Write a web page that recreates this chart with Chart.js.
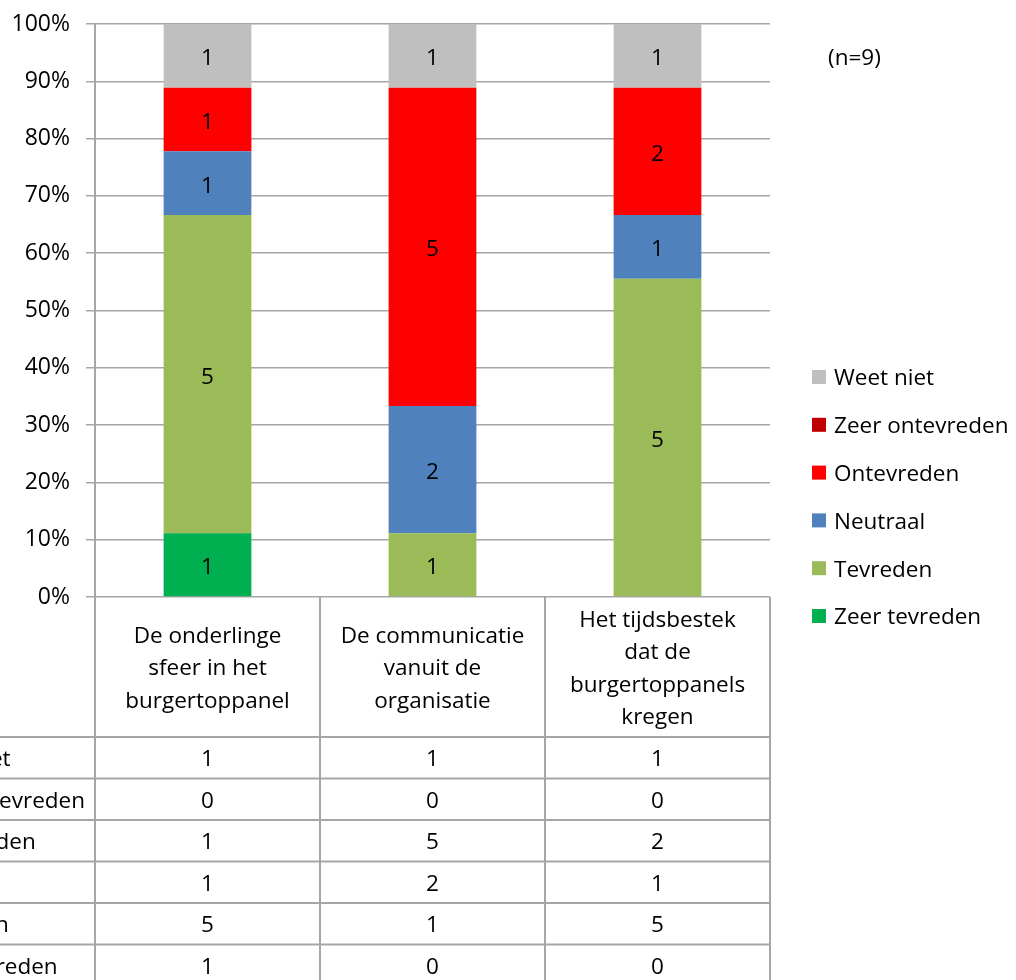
<!DOCTYPE html>
<html>
<head>
<meta charset="utf-8">
<script src="https://cdn.jsdelivr.net/npm/chart.js@4/dist/chart.umd.min.js"></script>
<style>
  body { margin: 0; background: #fff; }
  #wrap { width: 1016px; height: 980px; position: relative; }
</style>
</head>
<body>
<div id="wrap"><canvas id="chart"></canvas></div>
<script>
// categories, header text split on the lines shown in the table
const categories = [
  ["De onderlinge", "sfeer in het", "burgertoppanel"],
  ["De communicatie", "vanuit de", "organisatie"],
  ["Het tijdsbestek", "dat de", "burgertoppanels", "kregen"],
];

// counts per answer (n=9 per column)
const weetNiet       = [1, 1, 1];
const zeerOntevreden = [0, 0, 0];
const ontevreden     = [1, 5, 2];
const neutraal       = [1, 2, 1];
const tevreden       = [5, 1, 5];
const zeerTevreden   = [1, 0, 0];

const yTicks = [0, 10, 20, 30, 40, 50, 60, 70, 80, 90, 100];
const sampleNote = "(n=9)";

// stack order bottom -> top
const series = [
  { name: "Zeer tevreden",   counts: zeerTevreden,   color: "#00b050" },
  { name: "Tevreden",        counts: tevreden,       color: "#9bbb59" },
  { name: "Neutraal",        counts: neutraal,       color: "#4f81bd" },
  { name: "Ontevreden",      counts: ontevreden,     color: "#ff0000" },
  { name: "Zeer ontevreden", counts: zeerOntevreden, color: "#c00000" },
  { name: "Weet niet",       counts: weetNiet,       color: "#bfbfbf" },
];

const totals = categories.map((_, i) => series.reduce((s, d) => s + d.counts[i], 0));

const FONT = "'Open Sans', Lato, sans-serif";
const TXT = `22.5px ${FONT}`;
const LINE = "#a6a6a6";
const DY = 2; // Open Sans sits a little high on a middle baseline

// value labels centred in each segment
const valueLabels = {
  id: "valueLabels",
  afterDatasetsDraw(chart) {
    const ctx = chart.ctx;
    ctx.save();
    ctx.font = TXT;
    ctx.fillStyle = "#000";
    ctx.textAlign = "center";
    ctx.textBaseline = "middle";
    chart.data.datasets.forEach((ds, di) => {
      const meta = chart.getDatasetMeta(di);
      meta.data.forEach((bar, i) => {
        const c = ds.counts[i];
        if (!c) return;
        ctx.fillText(String(c), bar.x, (bar.y + bar.base) / 2 + DY + 1);
      });
    });
    ctx.restore();
  }
};

// data table under the plot + legend on the right
const tableAndLegend = {
  id: "tableAndLegend",
  afterDraw(chart) {
    const ctx = chart.ctx;
    const xs = chart.scales.x;
    const area = chart.chartArea;
    const colW = (area.right - area.left) / categories.length;
    const headTop = area.bottom, headBot = 737, rowH = 41.5;
    const rows = series.slice().reverse();

    ctx.save();
    ctx.strokeStyle = LINE;
    ctx.lineWidth = 2;
    // vertical lines
    for (let i = 0; i <= categories.length; i++) {
      const x = area.left + i * colW;
      ctx.beginPath();
      ctx.moveTo(x, headTop);
      ctx.lineTo(x, chart.height);
      ctx.stroke();
    }
    // horizontal lines
    for (let r = 0; r <= rows.length; r++) {
      const y = headBot + r * rowH;
      ctx.beginPath();
      ctx.moveTo(0, y);
      ctx.lineTo(area.right, y);
      ctx.stroke();
    }

    ctx.fillStyle = "#000";
    ctx.font = TXT;
    ctx.textAlign = "center";
    ctx.textBaseline = "middle";
    // header
    categories.forEach((lines, i) => {
      const cx = xs.getPixelForValue(i);
      const mid = (headTop + headBot) / 2 + DY;
      const lh = 32.5;
      lines.forEach((t, k) => {
        ctx.fillText(t, cx, mid + (k - (lines.length - 1) / 2) * lh);
      });
    });
    // row values
    rows.forEach((s, r) => {
      const cy = headBot + r * rowH + rowH / 2 + DY;
      s.counts.forEach((c, i) => ctx.fillText(String(c), xs.getPixelForValue(i), cy));
    });
    // row labels (column sits partly off the left edge)
    ctx.textAlign = "left";
    const x0 = 85 - ctx.measureText("Zeer ontevreden").width;
    rows.forEach((s, r) => {
      ctx.fillText(s.name, x0, headBot + r * rowH + rowH / 2 + DY);
    });

    // legend
    rows.forEach((s, r) => {
      const cy = 377 + r * 47.8;
      ctx.fillStyle = s.color;
      ctx.fillRect(812, cy - 7, 14, 14);
      ctx.fillStyle = "#000";
      ctx.fillText(s.name, 834, cy + DY);
    });
    ctx.fillText(sampleNote, 828, 57 + DY);
    ctx.restore();
  }
};

new Chart(document.getElementById("chart"), {
  type: "bar",
  data: {
    labels: categories.map(c => c.join(" ")),
    datasets: series.map(s => ({
      label: s.name,
      counts: s.counts,
      data: s.counts.map((c, i) => c / totals[i] * 100),
      backgroundColor: s.color,
      borderWidth: 0,
      barPercentage: 0.39,
      categoryPercentage: 1,
    })),
  },
  options: {
    responsive: true,
    maintainAspectRatio: false,
    animation: false,
    devicePixelRatio: 1,
    layout: { padding: { left: 0, right: 246, top: 24, bottom: 383 } },
    plugins: { legend: { display: false }, tooltip: { enabled: false } },
    scales: {
      x: {
        stacked: true,
        ticks: { display: false },
        grid: { display: false },
        border: { display: false },
        afterFit: s => { s.height = 0; },
      },
      y: {
        stacked: true,
        min: 0,
        max: 100,
        afterBuildTicks: s => { s.ticks = yTicks.map(v => ({ value: v })); },
        afterFit: s => { s.width = 95; s.paddingTop = 0; s.paddingBottom = 0; },
        ticks: {
          padding: 16,
          color: "#000",
          font: { family: FONT, size: 23 },
          callback: v => v + "%",
        },
        grid: { color: LINE, lineWidth: 1.5, tickLength: 9 },
        border: { color: LINE, width: 2 },
      },
    },
  },
  plugins: [valueLabels, tableAndLegend],
});
</script>
</body>
</html>
